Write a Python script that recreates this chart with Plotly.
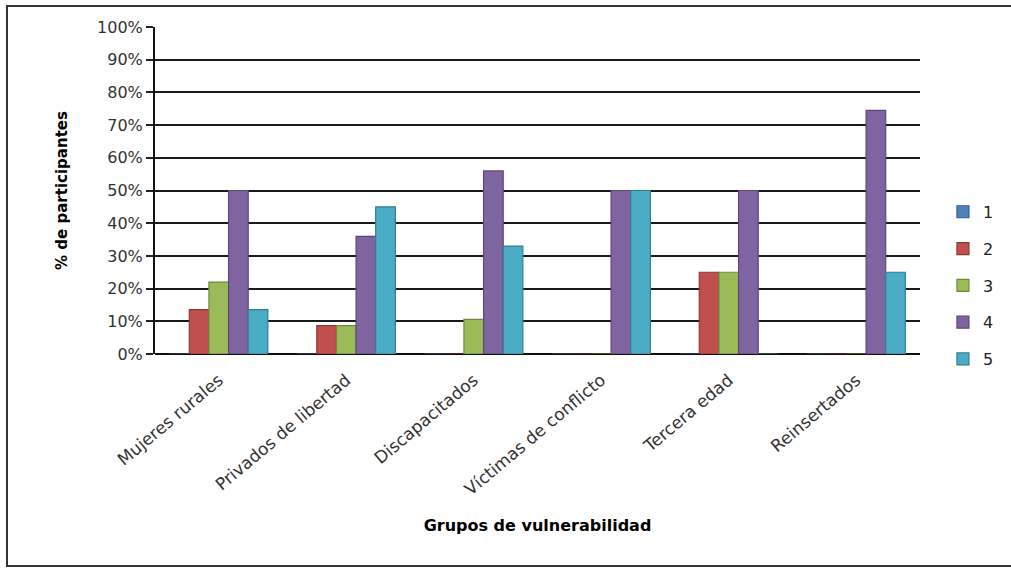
import plotly.graph_objects as go

categories = ["Mujeres rurales", "Privados de libertad", "Discapacitados",
              "Víctimas de conflicto", "Tercera edad", "Reinsertados"]
series_names = ["1", "2", "3", "4", "5"]
s1 = [0, 0, 0, 0, 0, 0]
s2 = [13.6, 8.7, 0, 0, 25, 0]
s3 = [22, 8.7, 10.6, 0, 25, 0]
s4 = [50, 36, 56, 50, 50, 74.5]
s5 = [13.6, 45, 33, 50, 0, 25]
series_values = [s1, s2, s3, s4, s5]
y_tick_vals = [0, 10, 20, 30, 40, 50, 60, 70, 80, 90, 100]
y_tick_text = ["0%", "10%", "20%", "30%", "40%", "50%", "60%", "70%", "80%", "90%", "100%"]

fills = ["#4F81BD", "#C0504D", "#9BBB59", "#8064A2", "#4BACC6"]
edges = ["#385D8A", "#8C3836", "#71893F", "#5C4776", "#357D91"]

fig = go.Figure()
for name, vals, fc, ec in zip(series_names, series_values, fills, edges):
    fig.add_trace(go.Bar(
        x=categories, y=vals, name=name, legendgroup=name,
        marker=dict(color=fc, line=dict(color=ec, width=1.2)),
    ))

fig.update_layout(
    width=1011, height=569,
    paper_bgcolor="white", plot_bgcolor="white",
    margin=dict(l=155, r=91, t=27, b=215),
    barmode="group", bargap=0.23, bargroupgap=0,
    font=dict(family="DejaVu Sans", size=15, color="#333333"),
    legend=dict(x=1.03, y=0.21, xanchor="left", yanchor="middle",
                font=dict(size=16, color="#222222"), tracegroupgap=13, itemwidth=30),
    xaxis=dict(
        tickangle=-40, tickfont=dict(size=17, color="#333333"),
        ticklabelstandoff=12,
        showline=False, showgrid=False, ticks="",
        title=dict(text="<b>Grupos de vulnerabilidad</b>",
                   font=dict(size=16, color="black"), standoff=21),
    ),
    yaxis=dict(
        range=[0, 100], tickvals=y_tick_vals, ticktext=y_tick_text,
        tickfont=dict(size=16, color="#333333"),
        showgrid=True, gridcolor="#1a1a1a", gridwidth=1.6,
        showline=True, linecolor="#111111", linewidth=2,
        ticks="outside", ticklen=7, tickcolor="#222222", tickwidth=1.5,
        zeroline=True, zerolinecolor="#111111", zerolinewidth=2,
        title=dict(text="<b>% de participantes</b>",
                   font=dict(size=15, color="black"), standoff=26),
    ),
    shapes=[dict(type="rect", xref="paper", yref="paper",
                 x0=-148/765, x1=(1020-155)/765, y0=-212/327, y1=1 + 21/327,
                 line=dict(color="#333333", width=2))],
)

fig.write_html("out.html", config={"displayModeBar": False},
               post_script="document.body.style.margin='0px';document.body.style.overflow='hidden';")
